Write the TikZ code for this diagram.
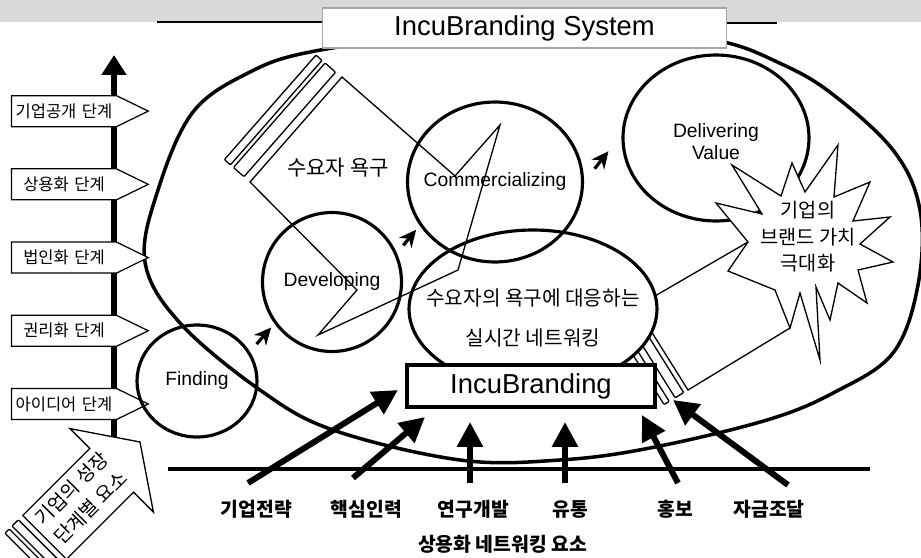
\documentclass[tikz,border=0pt]{standalone}
\usepackage{fontspec}
\setmainfont{Liberation Sans}
\newfontfamily\kr{Noto Sans CJK KR}
\usetikzlibrary{shapes.geometric, shapes.symbols, arrows.meta, positioning}

\begin{document}
\begin{tikzpicture}[x=0.02cm, y=-0.02cm]
\tikzstyle{circ}=[ellipse, draw=black, line width=1.8pt, inner sep=0pt, font=\fontsize{11}{12.5}\selectfont]
\tikzstyle{outline}=[draw=black, line width=0.75pt]
\tikzstyle{stripe}=[draw=black, line width=0.75pt, rounded corners=0.6pt]
\tikzstyle{stage}=[signal, signal to=east, signal pointer angle=52, draw=black, line width=0.7pt, fill=white, text width=2.1cm, align=center, minimum height=0.62cm, inner xsep=0pt, inner ysep=0pt, font=\kr\fontsize{9.4}{10}\selectfont]
\tikzstyle{push}=[line width=3.4pt, -{Triangle[length=0.5cm, width=0.5cm]}]
\tikzstyle{flow}=[line width=1.8pt, -{Stealth[length=0.34cm, width=0.32cm]}]
\tikzstyle{factor}=[font=\kr\bfseries\fontsize{11}{12}\selectfont]
\tikzstyle{lab}=[font=\fontsize{11}{12.5}\selectfont]

\useasboundingbox (0,0) rectangle (921,558);
\fill[gray!30] (0,0) rectangle (921,22);
\draw[line width=1.6pt] (157,22) -- (322,22);
\draw[line width=0.8pt] (727,23) -- (777,23);

\draw[line width=2pt] plot[smooth cycle, tension=0.6] coordinates {(145,262) (158,190) (193,112) (250,72) (310,52) (420,38) (560,34) (680,38) (728,43) (773,60) (827,90) (893,150) (920,210) (918,285) (893,353) (835,392) (767,420) (650,448) (560,460) (460,460) (333,430) (260,390) (180,323)};

\node[draw=gray!70, line width=0.6pt, fill=white, minimum width=8.1cm, minimum height=0.8cm, font=\fontsize{15.6}{18}\selectfont] (title) at (524.5,28) {IncuBranding System};

\coordinate (axisfoot) at (114,440);
\coordinate (axistop) at (114,55);
\draw[line width=3.2pt, -{Triangle[length=0.4cm, width=0.48cm]}] (axisfoot) -- (axistop);
\node[stage] (idea) at (64,404) {아이디어 단계};
\node[stage, above=0.82cm of idea] (patent) {권리화 단계};
\node[stage, above=0.82cm of patent] (corp) {법인화 단계};
\node[stage, above=0.82cm of corp] (market) {상용화 단계};
\node[stage, above=0.82cm of market] (ipo) {기업공개 단계};

\draw[outline] (748,242) -- (636,307) -- (688,390) -- (790,328);
\draw[stripe] (631.7,309.6) -- (683.7,392.6) -- (675.2,397.8) -- (623.2,314.8) -- cycle;
\draw[stripe] (617.2,318.4) -- (669.2,401.4) -- (664.1,404.6) -- (612.1,321.6) -- cycle;

\node[circ, fill=white, minimum width=4.96cm, minimum height=3.16cm, label={[align=center, yshift=-0.18cm, font=\kr\fontsize{11.5}{22.7}\selectfont]center:수요자의 욕구에 대응하는\\실시간 네트워킹}] (network) at (533,309) {};
\node[draw, line width=2pt, fill=white, minimum width=4.96cm, minimum height=0.84cm, inner sep=0pt, font=\fontsize{15.6}{18}\selectfont] (incub) at (531,386) {IncuBranding};

\node[circ, minimum width=2.4cm, minimum height=2.24cm] (finding) at (197,381) {Finding};
\node[circ, minimum size=2.78cm] (developing) at (332,282) {Developing};
\node[circ, minimum width=3.5cm, minimum height=3.2cm, label={[lab]center:Commercializing}] (commercial) at (495,182) {};
\node[circ, minimum width=3.72cm, minimum height=3.32cm, label={[lab, align=center, yshift=-0.08cm]center:Delivering\\Value}] (delivering) at (716,138) {};

\draw[outline] (342,77) -- (455,176) -- (500,125) -- (458,270) -- (318,335) -- (357,290) -- (250,182) -- cycle;
\draw[stripe] (244,176.7) -- (233.5,167.5) -- (325.1,63) -- (335.6,72.2) -- cycle;
\draw[stripe] (230.4,164.9) -- (224.4,159.6) -- (316,55.1) -- (322,60.4) -- cycle;
\node[font=\kr\fontsize{12}{14}\selectfont] (needs) at (338,168) {수요자 욕구};

\draw[outline, fill=white] (732,165) -- (781,196) -- (792,163) -- (805,192) -- (838,145) -- (834,197) -- (870,182) -- (853,221) -- (890,217) -- (860,244) -- (893,262) -- (858,270) -- (867,303) -- (838,283) -- (830,320) -- (816,287) -- (820,360) -- (800,293) -- (790,328) -- (775,290) -- (728,271) -- (748,242) -- (716,203) -- (762,214) -- cycle;
\node[font=\kr\fontsize{11.2}{15}\selectfont, align=center] (brand) at (808,237) {기업의\\브랜드 가치\\극대화};

\draw[flow, shorten <=0.2cm, shorten >=0.1cm] (finding.29) -- (developing.216);
\draw[flow, shorten <=0.2cm, shorten >=0.11cm] (developing.24) -- (commercial.210);
\draw[flow, shorten <=0.34cm, shorten >=0.42cm] (commercial.0) -- (delivering.178);

\draw[outline, fill=white] (140,442) -- (153.4,512) -- (133.6,492.2) -- (66.5,559.3) -- (22.7,515.5) -- (89.8,448.4) -- (70,428.6) -- cycle;
\draw[stripe] (62.2,563.6) -- (55.8,569.9) -- (12,526) -- (18.4,519.8) -- cycle;
\draw[stripe] (53,572.8) -- (48.8,577) -- (5,533.2) -- (9.2,529) -- cycle;
\node[font=\kr\fontsize{11}{15.3}\selectfont, align=center, rotate=45] (growth) at (81,498) {기업의 성장\\단계별 요소};

\coordinate (basel) at (168,469);
\coordinate (baser) at (870,469);
\draw[line width=2.8pt] (basel) -- (baser);

\node[factor] (strategy) at (256.5,509) {기업전략};
\node[factor] (people) at (366.5,509) {핵심인력};
\node[factor] (rnd) at (473.5,509) {연구개발};
\node[factor] (channel) at (570,509) {유통};
\node[factor] (promo) at (675,509) {홍보};
\node[factor] (funding) at (769,509) {자금조달};
\node[factor] (factors) at (502.5,544) {상용화 네트워킹 요소};

\foreach \name/\tx/\ty/\hx/\hy in {strategy/248/483/398/390, people/353/478/425/417, rnd/470/483/470/422, channel/565/483/565/422, promo/678/483/642/415, funding/788/485/673/400}
{
  \coordinate (\name-tail) at (\tx,\ty);
  \coordinate (\name-tip) at (\hx,\hy);
  \draw[push] (\name-tail) -- (\name-tip);
}
\end{tikzpicture}
\end{document}
